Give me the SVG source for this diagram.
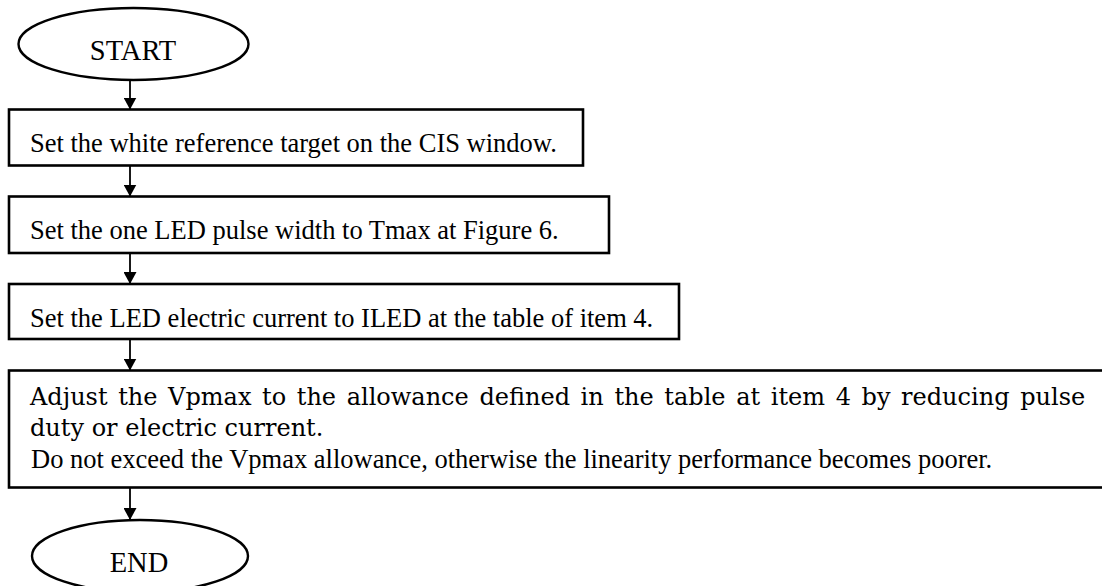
<svg xmlns="http://www.w3.org/2000/svg" width="1102" height="586" viewBox="0 0 1102 586">
<style>
.box{fill:#fff;stroke:#000;stroke-width:2.6}
.term{fill:#fff;stroke:#000;stroke-width:2.4}
.t{font-family:"Liberation Serif","Times New Roman",serif;font-size:26.5px;fill:#000}
.tt{font-family:"Liberation Serif","Times New Roman",serif;font-size:28.5px;fill:#000;text-anchor:middle}
.c{font-family:"DejaVu Serif",serif;font-size:24px;fill:#000}
.ln{stroke:#000;stroke-width:1.8;fill:none}
</style>
<defs>
<marker id="ah" markerUnits="userSpaceOnUse" markerWidth="14" markerHeight="13" viewBox="0 0 14 13" refX="12" refY="6.5" orient="auto">
<path d="M0,0 L12,6.5 L0,13 Z" fill="#000"/>
</marker>
</defs>
<rect width="1102" height="586" fill="#fff"/>
<g id="connectors">
<line class="ln" x1="130" y1="80" x2="130" y2="109.5" marker-end="url(#ah)"/>
<line class="ln" x1="130" y1="166" x2="130" y2="196.5" marker-end="url(#ah)"/>
<line class="ln" x1="130" y1="253" x2="130" y2="284" marker-end="url(#ah)"/>
<line class="ln" x1="130" y1="339" x2="130" y2="370.5" marker-end="url(#ah)"/>
<line class="ln" x1="130" y1="488" x2="130" y2="520" marker-end="url(#ah)"/>
</g>
<g id="start">
<ellipse class="term" cx="133.5" cy="44" rx="115" ry="36"/>
<text class="tt" x="133" y="60">START</text>
</g>
<g id="step1">
<rect class="box" x="9" y="109.5" width="574" height="56"/>
<text class="t" x="30" y="151.5">Set the white reference target on the CIS window.</text>
</g>
<g id="step2">
<rect class="box" x="9" y="196.5" width="600" height="56.5"/>
<text class="t" x="30" y="238.5">Set the one LED pulse width to Tmax at Figure 6.</text>
</g>
<g id="step3">
<rect class="box" x="9" y="284" width="670" height="55"/>
<text class="t" x="30" y="326.5">Set the LED electric current to ILED at the table of item 4.</text>
</g>
<g id="step4">
<rect class="box" x="9" y="370.5" width="1110" height="117"/>
<text class="c" x="30" y="405" word-spacing="3">Adjust the Vpmax to the allowance defined in the table at item 4 by reducing pulse</text>
<text class="c" x="30" y="436">duty or electric current.</text>
<text class="t" x="31" y="468">Do not exceed the Vpmax allowance, otherwise the linearity performance becomes poorer.</text>
</g>
<g id="end">
<ellipse class="term" cx="140" cy="556" rx="108" ry="36"/>
<text class="tt" x="139" y="572">END</text>
</g>
</svg>
